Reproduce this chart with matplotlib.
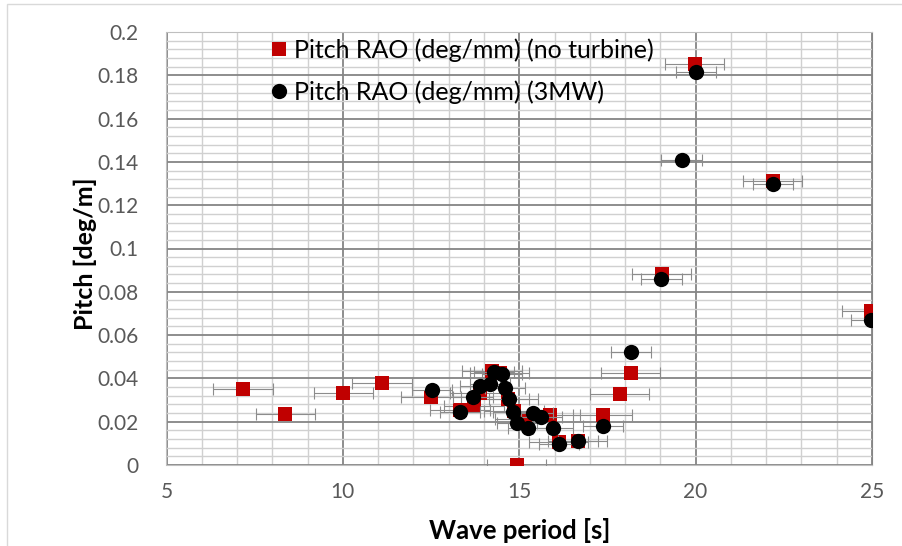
import matplotlib.pyplot as plt
from matplotlib.patches import Rectangle
from matplotlib.ticker import MultipleLocator

plt.rcParams['font.family'] = ['Lato', 'DejaVu Sans']

# Pitch RAO, no turbine
period_nt = [7.17, 8.37, 10.01, 11.11, 12.50, 13.32, 13.72, 13.89, 14.23, 14.45,
             14.68, 14.85, 14.93, 15.16, 15.87, 16.12, 16.66, 17.37, 17.85, 18.16,
             19.04, 19.97, 22.18, 24.98]
pitch_nt = [0.0352, 0.0236, 0.0333, 0.0381, 0.0315, 0.0255, 0.0273, 0.0333, 0.0435, 0.0426,
            0.0306, 0.0250, 0.0000, 0.0213, 0.0231, 0.0106, 0.0111, 0.0231, 0.0329, 0.0426,
            0.0884, 0.1852, 0.1310, 0.0713]
err_nt = 0.84

# Pitch RAO, 3MW turbine
period_3mw = [12.52, 13.32, 13.70, 13.89, 14.17, 14.28, 14.51, 14.60, 14.72, 14.83,
              14.93, 15.25, 15.40, 15.63, 15.96, 16.13, 16.66, 17.38, 18.16, 19.03,
              19.60, 20.00, 22.19, 24.97]
pitch_3mw = [0.0346, 0.0245, 0.0312, 0.0366, 0.0374, 0.0431, 0.0421, 0.0355, 0.0307, 0.0247,
             0.0196, 0.0173, 0.0238, 0.0224, 0.0173, 0.0099, 0.0111, 0.0180, 0.0520, 0.0860,
             0.1407, 0.1816, 0.1300, 0.0671]
err_3mw = 0.57

fig = plt.figure(figsize=(9.03, 5.46), dpi=100)
ax = fig.add_axes([166.5 / 903, 81 / 546, (872 - 166.5) / 903, (465 - 32) / 546])

# chart area border
fig.patches.append(Rectangle((7 / 903, -0.1), 1.2, (546 - 4) / 546 + 0.1,
                             transform=fig.transFigure, fill=False,
                             edgecolor='#d9d9d9', lw=1.0))

ax.errorbar(period_nt, pitch_nt, xerr=err_nt, fmt='none', ecolor='#8c8c8c',
            elinewidth=0.8, capsize=4.5, capthick=0.8, zorder=3)
ax.plot(period_nt, pitch_nt, 's', color='#c00000', ms=10, mew=0,
        label='Pitch RAO (deg/mm) (no turbine)', zorder=4)
ax.errorbar(period_3mw, pitch_3mw, xerr=err_3mw, fmt='none', ecolor='#8c8c8c',
            elinewidth=0.8, capsize=4.5, capthick=0.8, zorder=5)
ax.plot(period_3mw, pitch_3mw, 'o', color='black', ms=11, mew=0,
        label='Pitch RAO (deg/mm) (3MW)', zorder=6)

ax.set_xlim(5, 25)
ax.set_ylim(0, 0.2)
ax.xaxis.set_major_locator(MultipleLocator(5))
ax.xaxis.set_minor_locator(MultipleLocator(1))
ax.yaxis.set_minor_locator(MultipleLocator(0.004))
ax.set_yticks([0, 0.02, 0.04, 0.06, 0.08, 0.1, 0.12, 0.14, 0.16, 0.18, 0.2])
ax.set_yticklabels(['0', '0.02', '0.04', '0.06', '0.08', '0.1', '0.12', '0.14',
                    '0.16', '0.18', '0.2'])

ax.grid(which='major', color='#858585', lw=1.3, zorder=1)
ax.grid(which='minor', color='#d0d0d0', lw=1.0, zorder=0)
ax.set_axisbelow(True)
ax.tick_params(which='both', length=0, labelsize=15, labelcolor='#595959')
ax.tick_params(axis='y', pad=20)
ax.tick_params(axis='x', pad=12)
for side in ['left', 'bottom', 'top']:
    ax.spines[side].set_color('#bfbfbf')
ax.spines['right'].set_color('#858585')

ax.set_xlabel('Wave period [s]', fontsize=18.5, fontweight='bold', labelpad=12)
ax.set_ylabel('Pitch [deg/m]', fontsize=18, fontweight='bold')
ax.yaxis.set_label_coords(-0.099, 0.487)

ax.legend(loc='upper left', bbox_to_anchor=(268 / 903, 1 - 38 / 546),
          bbox_transform=fig.transFigure, frameon=False, fontsize=18,
          handletextpad=0.15, labelspacing=0.75, handlelength=0.9,
          borderaxespad=0, borderpad=0)

fig.savefig('out.png', dpi=100)
